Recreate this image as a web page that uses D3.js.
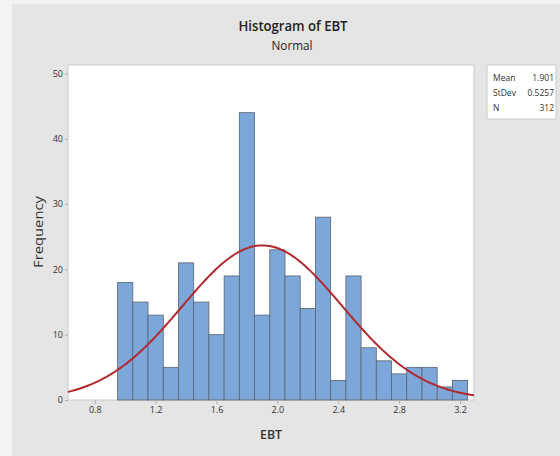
<!DOCTYPE html>
<html>
<head>
<meta charset="utf-8">
<script src="https://cdn.jsdelivr.net/npm/d3@7"></script>
<style>
  html, body { margin: 0; padding: 0; background: #f3f3f3; }
  svg { display: block; }
</style>
</head>
<body>
<script>
// ---- Data ----
const binCenters = [1.0, 1.1, 1.2, 1.3, 1.4, 1.5, 1.6, 1.7, 1.8, 1.9, 2.0, 2.1, 2.2, 2.3, 2.4, 2.5, 2.6, 2.7, 2.8, 2.9, 3.0, 3.1, 3.2];
const frequencies = [18, 15, 13, 5, 21, 15, 10, 19, 44, 13, 23, 19, 14, 28, 3, 19, 8, 6, 4, 5, 5, 2, 3];
const binWidth = 0.1;
const xTicks = [0.8, 1.2, 1.6, 2.0, 2.4, 2.8, 3.2];
const yTicks = [0, 10, 20, 30, 40, 50];
const statLabels = ["Mean", "StDev", "N"];
const statValues = ["1.901", "0.5257", "312"];
const mean = 1.901, sd = 0.5257, n = 312;

const W = 560, H = 456;
const svg = d3.select("body").append("svg").attr("width", W).attr("height", H);

// Backgrounds
svg.append("rect").attr("x", 0).attr("y", 0).attr("width", W).attr("height", H).attr("fill", "#f3f3f3");
svg.append("rect").attr("x", 12).attr("y", 4).attr("width", W - 12).attr("height", H - 4).attr("fill", "#e5e5e5");

const plot = { left: 68, right: 474, top: 65, bottom: 400 };
const x = d3.scaleLinear().domain([0.624, 3.292]).range([plot.left, plot.right]);
const y = d3.scaleLinear().domain([0, 51.3]).range([plot.bottom, plot.top]);

// Plot area
svg.append("rect")
  .attr("x", plot.left).attr("y", plot.top)
  .attr("width", plot.right - plot.left).attr("height", plot.bottom - plot.top)
  .attr("fill", "#ffffff").attr("stroke", "#c9c9c9").attr("stroke-width", 1);

const font = "'Open Sans', 'Noto Sans', sans-serif";

// Bars
svg.append("g").selectAll("rect").data(binCenters).join("rect")
  .attr("x", (d) => x(d - binWidth / 2))
  .attr("width", (d) => x(d + binWidth / 2) - x(d - binWidth / 2))
  .attr("y", (d, i) => y(frequencies[i]))
  .attr("height", (d, i) => y(0) - y(frequencies[i]))
  .attr("fill", "#7da7d9")
  .attr("stroke", "#5a6470")
  .attr("stroke-width", 0.8);

// Normal curve
const pdf = (v) => Math.exp(-0.5 * ((v - mean) / sd) ** 2) / (sd * Math.sqrt(2 * Math.PI));
const dom = x.domain();
const curvePts = d3.range(0, 201).map((k) => {
  const v = dom[0] + (dom[1] - dom[0]) * k / 200;
  return [v, n * binWidth * pdf(v)];
});
svg.append("path")
  .datum(curvePts)
  .attr("d", d3.line().x((d) => x(d[0])).y((d) => y(d[1])))
  .attr("fill", "none")
  .attr("stroke", "#b22a2e")
  .attr("stroke-width", 2);

// Axes
const xAxis = svg.append("g").attr("transform", `translate(0,${plot.bottom})`)
  .call(d3.axisBottom(x).tickValues(xTicks).tickFormat(d3.format(".1f")).tickSize(4).tickPadding(3));
const yAxis = svg.append("g").attr("transform", `translate(${plot.left},0)`)
  .call(d3.axisLeft(y).tickValues(yTicks).tickSize(3).tickPadding(2));
[xAxis, yAxis].forEach((g) => {
  g.select(".domain").remove();
  g.selectAll(".tick line").attr("stroke", "#b0b0b0");
  g.selectAll(".tick text").attr("fill", "#333").style("font-family", font).style("font-size", "9px");
});

// Titles
svg.append("text").attr("x", 293).attr("y", 31).attr("text-anchor", "middle")
  .attr("textLength", 109).attr("lengthAdjust", "spacingAndGlyphs")
  .style("font-family", font).style("font-size", "15px").style("font-weight", 600).attr("fill", "#222")
  .text("Histogram of EBT");
svg.append("text").attr("x", 292).attr("y", 50).attr("text-anchor", "middle")
  .attr("textLength", 41).attr("lengthAdjust", "spacingAndGlyphs")
  .style("font-family", font).style("font-size", "12px").attr("fill", "#222")
  .text("Normal");

// Axis labels
svg.append("text").attr("x", 271).attr("y", 439).attr("text-anchor", "middle")
  .attr("textLength", 22).attr("lengthAdjust", "spacingAndGlyphs")
  .style("font-family", font).style("font-size", "13px").style("font-weight", 600).attr("fill", "#333")
  .text("EBT");
svg.append("text").attr("transform", "translate(43,232) rotate(-90)").attr("text-anchor", "middle")
  .attr("textLength", 72).attr("lengthAdjust", "spacingAndGlyphs")
  .style("font-family", font).style("font-size", "12.5px").style("font-weight", 500).attr("fill", "#333")
  .text("Frequency");

// Stats box
svg.append("rect").attr("x", 487).attr("y", 65).attr("width", 69).attr("height", 54)
  .attr("fill", "#ffffff").attr("stroke", "#c9c9c9").attr("stroke-width", 1);
const rows = svg.append("g").selectAll("g").data(statLabels).join("g")
  .attr("transform", (d, i) => `translate(0,${81 + i * 15})`);
rows.append("text").attr("x", 493)
  .style("font-family", font).style("font-size", "8.5px").attr("fill", "#333")
  .text((d) => d);
rows.append("text").attr("x", 554).attr("text-anchor", "end")
  .style("font-family", font).style("font-size", "8.5px").attr("fill", "#333")
  .text((d, i) => statValues[i]);
</script>
</body>
</html>
